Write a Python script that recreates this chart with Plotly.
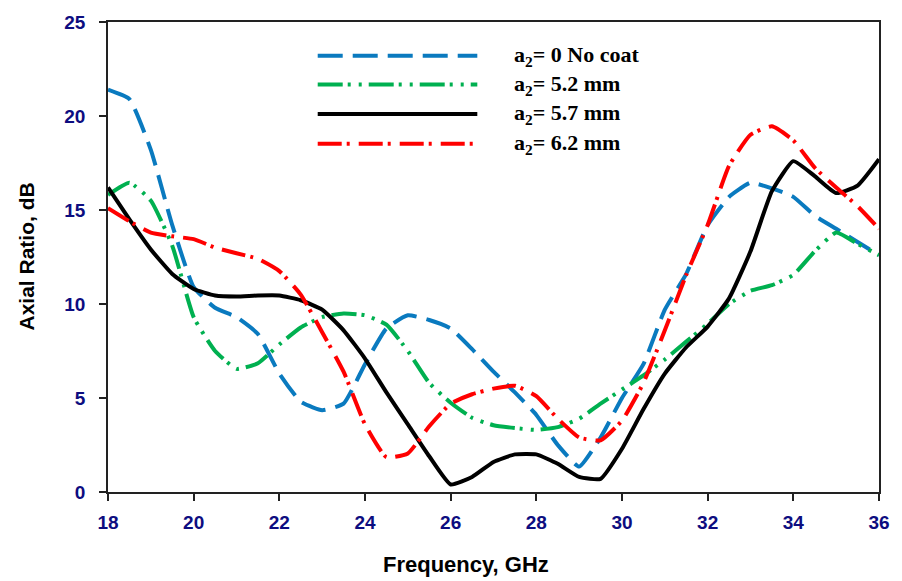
import plotly.graph_objects as go

# Frequency sweep (GHz)
freq = [18.0, 18.5, 19.0, 19.5, 20.0, 20.5, 21.0, 21.5, 22.0, 22.5, 23.0, 23.5,
        24.0, 24.5, 25.0, 25.5, 26.0, 26.5, 27.0, 27.5, 28.0, 28.5, 29.0, 29.5,
        30.0, 30.5, 31.0, 31.5, 32.0, 32.5, 33.0, 33.5, 34.0, 34.5, 35.0, 35.5, 36.0]

# Axial ratio (dB) for each coating thickness
ar_no_coat = [21.4, 20.9, 18.2, 14.2, 10.9, 9.8, 9.3, 8.4, 6.3, 4.8, 4.35, 4.7,
              6.8, 8.7, 9.4, 9.15, 8.7, 7.6, 6.4, 5.3, 4.1, 2.5, 1.35, 2.9,
              5.0, 6.8, 9.7, 11.6, 14.2, 15.7, 16.45, 16.15, 15.7, 14.7, 14.0, 13.3, 12.6]
ar_52 = [15.8, 16.45, 15.5, 13.1, 9.3, 7.5, 6.55, 6.85, 7.85, 8.75, 9.3, 9.5,
         9.4, 8.9, 7.5, 5.8, 4.75, 3.95, 3.55, 3.4, 3.3, 3.45, 3.9, 4.7,
         5.45, 6.2, 7.05, 8.0, 8.95, 10.0, 10.7, 11.0, 11.55, 12.8, 13.8, 13.2, 12.6]
ar_57 = [16.2, 14.5, 12.9, 11.6, 10.8, 10.45, 10.4, 10.45, 10.45, 10.2, 9.7, 8.6,
         7.1, 5.3, 3.6, 1.9, 0.4, 0.8, 1.6, 2.0, 2.0, 1.5, 0.8, 0.7,
         2.3, 4.4, 6.3, 7.7, 8.8, 10.3, 12.8, 16.0, 17.6, 16.8, 15.9, 16.3, 17.7]
ar_62 = [15.1, 14.4, 13.8, 13.6, 13.45, 13.0, 12.7, 12.4, 11.75, 10.5, 8.5, 6.4,
         3.6, 1.85, 2.05, 3.5, 4.7, 5.2, 5.5, 5.65, 5.1, 3.9, 2.9, 2.75,
         3.8, 5.8, 8.6, 11.55, 14.2, 17.35, 19.0, 19.45, 18.7, 17.25, 16.2, 15.2, 14.0]

series_names = ["a<sub>2</sub>= 0 No coat", "a<sub>2</sub>= 5.2 mm",
                "a<sub>2</sub>= 5.7 mm", "a<sub>2</sub>= 6.2 mm"]
series_values = [ar_no_coat, ar_52, ar_57, ar_62]

x_ticks = [18, 20, 22, 24, 26, 28, 30, 32, 34, 36]
y_ticks = [0, 5, 10, 15, 20, 25]

x_title = "Frequency, GHz"
y_title = "Axial Ratio, dB"

colors = ["#0A7ABF", "#00B050", "#000000", "#FF0000"]
dashes = ["25px,10px", "25px,5px,3px,8px,3px,7px", "solid", "24px,5px,3px,9px"]

fig = go.Figure()
for name, vals, col, dash in zip(series_names, series_values, colors, dashes):
    fig.add_trace(go.Scatter(
        x=freq, y=vals, mode="lines", name=name, showlegend=False,
        line=dict(color=col, width=4, dash=dash, shape="spline", smoothing=0.45),
    ))

# Legend: long line samples with labels, drawn in paper coordinates
leg_x0, leg_x1, leg_text_x = 0.272, 0.479, 0.524
leg_rows = [0.928, 0.867, 0.804, 0.741]
for name, col, dash, yy in zip(series_names, colors, dashes, leg_rows):
    fig.add_shape(type="line", xref="paper", yref="paper",
                  x0=leg_x0, x1=leg_x1, y0=yy, y1=yy,
                  line=dict(color=col, width=4, dash=dash))
    fig.add_annotation(xref="paper", yref="paper", x=leg_text_x, y=yy,
                       text="<b>" + name + "</b>", showarrow=False,
                       xanchor="left", yanchor="middle",
                       font=dict(family="Liberation Serif", size=22, color="black"))

# Axis titles
fig.add_annotation(xref="paper", yref="paper", x=0.464, y=-0.154,
                   text="<b>" + x_title + "</b>", showarrow=False,
                   xanchor="center", yanchor="middle",
                   font=dict(family="Liberation Sans", size=22, color="black"))
fig.add_annotation(xref="paper", yref="paper", x=-0.107, y=0.5,
                   text="<b>" + y_title + "</b>", showarrow=False, textangle=-90,
                   xanchor="center", yanchor="middle",
                   font=dict(family="Liberation Sans", size=21, color="black"))

axis_common = dict(
    showgrid=False, zeroline=False, showline=True, linecolor="#222222",
    linewidth=1.5, mirror=True, ticks="outside", ticklen=7, tickwidth=1.5,
    tickcolor="#222222",
    tickfont=dict(family="Liberation Sans", size=19, color="#0D0D80", weight="bold"),
)

fig.update_xaxes(range=[18, 36], tickvals=x_ticks,
                 ticktext=[str(t) for t in x_ticks], ticklabelstandoff=5,
                 **axis_common)
fig.update_yaxes(range=[0, 25], tickvals=y_ticks,
                 ticktext=[str(t) for t in y_ticks], ticklabelstandoff=10,
                 **axis_common)

fig.update_layout(
    width=902, height=581,
    margin=dict(l=108, r=20, t=18, b=89),
    paper_bgcolor="white", plot_bgcolor="white",
)

fig.write_html("out.html")
